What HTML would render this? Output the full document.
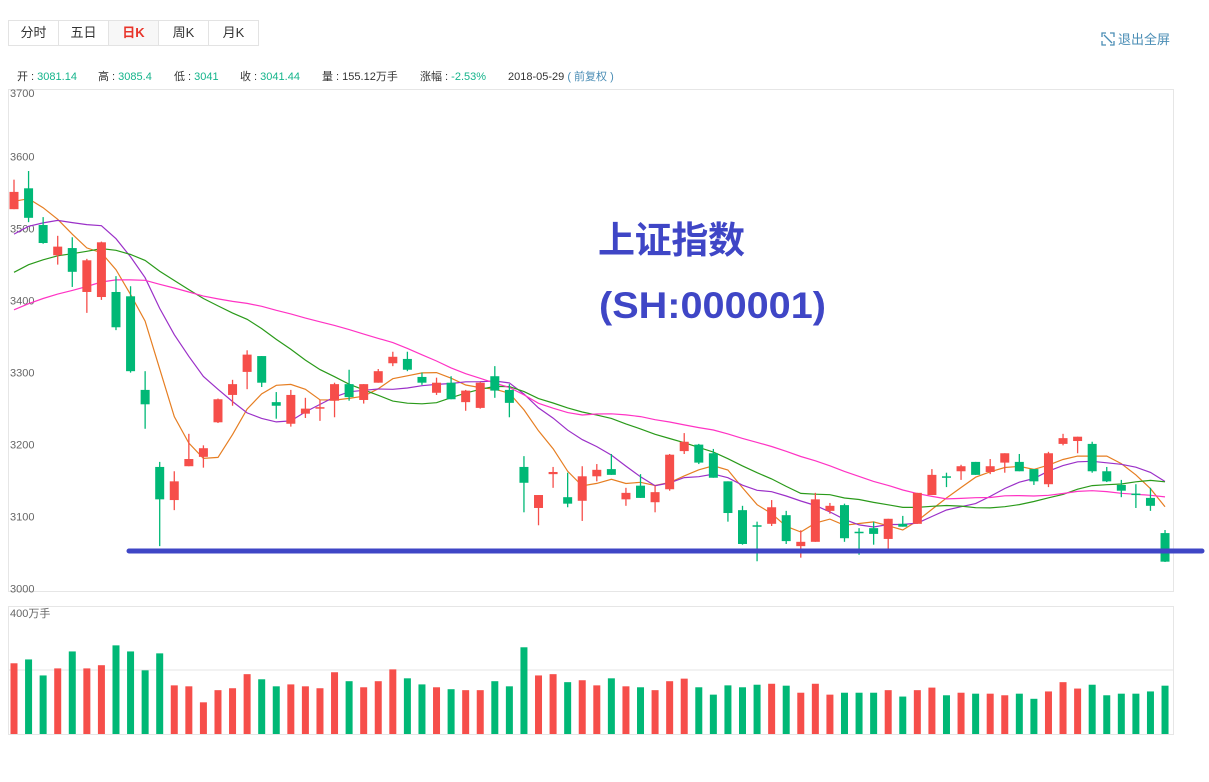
<!DOCTYPE html>
<html><head><meta charset="utf-8">
<style>
body{margin:0;background:#fff;width:1209px;height:782px;overflow:hidden;font-family:"Liberation Sans","Noto Sans CJK SC",sans-serif;}
.tabs{position:absolute;left:8px;top:20px;display:flex;border:1px solid #e3e3e3;}
.tab{width:49px;height:24px;line-height:24px;text-align:center;font-size:13px;color:#333;border-right:1px solid #e3e3e3;}
.tab:last-child{border-right:none}
.tab.on{color:#e8342a;background:#f7f7f7;font-weight:bold}
.exit{position:absolute;left:1101px;top:29px;font-size:13px;color:#4a8db5;}
.info{position:absolute;left:17px;top:68px;font-size:11px;color:#333;white-space:nowrap}
.info span{position:absolute;top:0}
.g{color:#14b48b}.b{color:#4a8db5}
</style></head><body>
<div class="tabs">
<div class="tab">分时</div>
<div class="tab">五日</div>
<div class="tab on">日K</div>
<div class="tab">周K</div>
<div class="tab">月K</div>
</div>
<div class="exit"><svg width="14" height="14" style="vertical-align:-2px;margin-right:3px" viewBox="0 0 14 14"><path d="M1 5V1h4M9 1h4v4M13 9v4H9M5 13H1V9M3 3l8 8" stroke="#4a8db5" stroke-width="1.3" fill="none"/></svg>退出全屏</div>
<div class="info">
<span style="left:0">开 : <b class="g" style="font-weight:normal">3081.14</b></span>
<span style="left:81px">高 : <i class="g" style="font-style:normal">3085.4</i></span>
<span style="left:157px">低 : <i class="g" style="font-style:normal">3041</i></span>
<span style="left:223px">收 : <i class="g" style="font-style:normal">3041.44</i></span>
<span style="left:305px">量 : 155.12万手</span>
<span style="left:403px">涨幅 : <i class="g" style="font-style:normal">-2.53%</i></span>
<span style="left:491px">2018-05-29 <i class="b" style="font-style:normal">( 前复权 )</i></span>
</div>
<svg id="chart" width="1209" height="782" style="position:absolute;left:0;top:0"></svg>
<script>
const opens=[3531,3560,3509,3467,3477,3416,3409,3416,3410,3280,3173,3127,3174,3187,3235,3273,3305,3327,3263,3233,3247,3254,3265,3288,3266,3290,3317,3323,3298,3276,3290,3263,3255,3299,3280,3173,3116,3163,3131,3126,3160,3170,3128,3147,3124,3142,3195,3204,3192,3153,3113,3092,3094,3106,3063,3069,3112,3120,3083,3088,3073,3094,3094,3134,3160,3167,3180,3166,3179,3180,3170,3149,3205,3209,3205,3167,3148,3136,3130,3081.14];
const highs=[3572,3584,3520,3494,3492,3462,3486,3438,3424,3306,3180,3167,3219,3203,3268,3294,3335,3327,3277,3280,3269,3266,3290,3308,3288,3309,3333,3333,3304,3297,3299,3280,3291,3313,3288,3188,3134,3173,3165,3174,3177,3191,3144,3163,3147,3191,3220,3205,3198,3153,3119,3097,3127,3112,3085,3137,3123,3122,3088,3097,3101,3105,3137,3170,3165,3176,3180,3184,3192,3191,3170,3194,3219,3215,3208,3173,3155,3149,3144,3085.4];
const lows=[3531,3513,3483,3454,3423,3387,3405,3363,3304,3226,3063,3113,3174,3172,3234,3258,3281,3284,3240,3229,3241,3237,3242,3265,3261,3290,3313,3306,3287,3273,3267,3251,3254,3269,3242,3110,3092,3144,3117,3098,3153,3162,3119,3130,3110,3140,3191,3177,3158,3097,3065,3042,3091,3066,3047,3069,3108,3069,3051,3065,3059,3090,3094,3134,3145,3155,3162,3163,3165,3167,3148,3145,3203,3192,3165,3152,3131,3116,3112,3041];
const closes=[3555,3519,3484,3479,3444,3460,3485,3367,3306,3260,3128,3153,3184,3199,3267,3288,3329,3290,3258,3273,3254,3256,3288,3270,3288,3306,3326,3308,3290,3290,3267,3279,3290,3279,3262,3151,3134,3166,3122,3160,3169,3162,3137,3130,3138,3190,3208,3179,3158,3109,3066,3091,3117,3070,3069,3128,3119,3074,3082,3080,3101,3090,3137,3162,3159,3174,3162,3174,3192,3167,3153,3192,3213,3215,3167,3153,3140,3135,3119,3041.44];
const volumes=[221,233,183,205,258,205,215,277,258,199,252,152,149,99,137,143,187,171,149,155,149,143,193,165,146,165,202,174,155,146,140,137,137,165,149,271,183,187,162,168,152,174,149,146,137,165,173,146,123,152,146,154,157,151,129,157,123,129,129,129,137,117,137,145,121,129,126,126,121,126,110,133,162,142,154,121,126,126,133,151];
const historyCloses=[3266,3267,3297,3287,3300,3297,3280,3306,3275,3296,3307,3349,3369,3386,3392,3410,3414,3422,3425,3429,3411,3437,3444,3474,3488,3501,3547,3559,3548];
const priceTicks=[3700,3600,3500,3400,3300,3200,3100,3000];
const maPeriods=[5,10,20,30];
const maColors=['#e67e22','#9b30c8','#2a9a1a','#ff33c4'];

const svg=document.getElementById('chart');
const NS='http://www.w3.org/2000/svg';
function mk(t,a,p){const e=document.createElementNS(NS,t);for(const k in a)e.setAttribute(k,a[k]);(p||svg).appendChild(e);return e;}
const xOf=i=>14+i*14.57;
const yOf=p=>591.5-(p-3000)*0.72;
const vY=v=>734-v*0.32;
const RED='#f64e4a',GREEN='#00b876';

let e=mk('rect',{x:8.5,y:89.5,width:1165,height:502,fill:'none',stroke:'#e6e6e6'});

e=mk('rect',{x:8.5,y:606.5,width:1165,height:128,fill:'none',stroke:'#e6e6e6'});

e=mk('line',{x1:8,x2:1173,y1:vY(200),y2:vY(200),stroke:'#e6e6e6'});


priceTicks.forEach(t=>{
  const ty=t===3700?97:yOf(t)+1;
  const l=mk('text',{x:10,y:ty,'font-size':11,fill:'#666'});
  l.textContent=t;
  
  
});
e=mk('text',{x:10,y:617,'font-size':11,fill:'#666'});e.textContent='400万手';


volumes.forEach((v,i)=>{
  const up=closes[i]>=opens[i];
  const b=mk('rect',{x:xOf(i)-3.5,y:vY(v),width:7,height:734-vY(v),fill:up?RED:GREEN});
  
  
});

const all=historyCloses.concat(closes);
const H=historyCloses.length;
maPeriods.forEach((n,k)=>{
  let pts=[];
  for(let i=0;i<closes.length;i++){
    let s=0,c=0;for(let j=H+i;j>H+i-n&&j>=0;j--){s+=all[j];c++;}
    pts.push(xOf(i).toFixed(1)+','+yOf(s/c).toFixed(1));
  }
  const l=mk('polyline',{points:pts.join(' '),fill:'none',stroke:maColors[k],'stroke-width':1.2});
  
  
});

closes.forEach((c,i)=>{
  const o=opens[i],up=c>=o,col=up?RED:GREEN,x=xOf(i);
  const g=mk('g',{});
  
  
  mk('line',{x1:x,x2:x,y1:yOf(highs[i]),y2:yOf(lows[i]),stroke:col,'stroke-width':1.3},g);
  const top=yOf(Math.max(o,c)),bot=yOf(Math.min(o,c));
  mk('rect',{x:x-4.5,y:top,width:9,height:Math.max(1.5,bot-top),fill:col},g);
});

e=mk('line',{x1:129,x2:1202,y1:551,y2:551,stroke:'#3f46c6','stroke-width':5,'stroke-linecap':'round'});


e=mk('text',{x:598,y:253,'font-size':37,'font-weight':'bold',fill:'#3f46c6',textLength:147});e.textContent='上证指数';

e=mk('text',{x:599,y:318,'font-size':37,'font-weight':'bold',fill:'#3f46c6',textLength:227,lengthAdjust:'spacingAndGlyphs'});e.textContent='(SH:000001)';

</script>
</body></html>
